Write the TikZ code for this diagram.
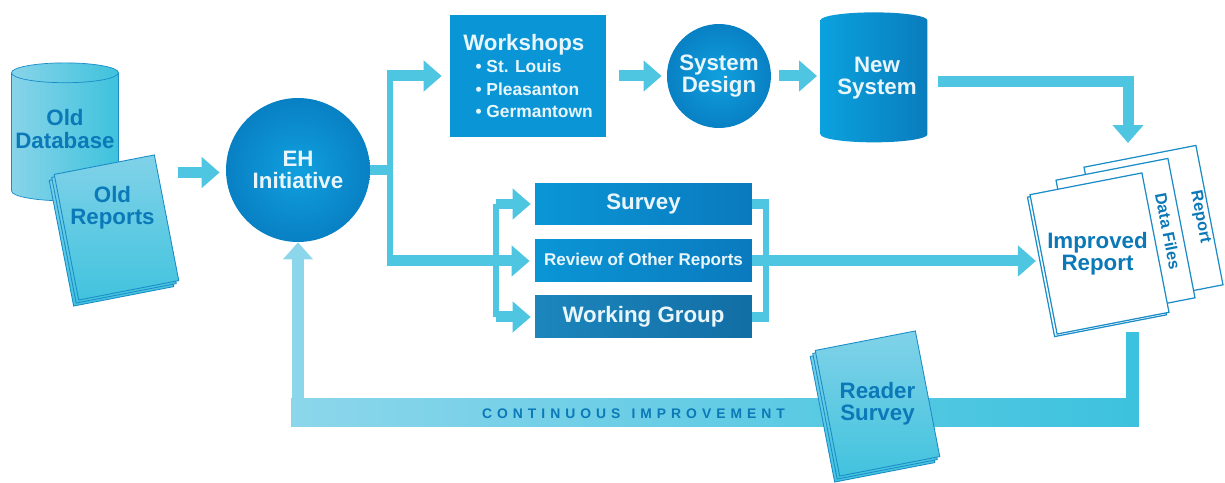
\documentclass[tikz,border=0pt]{standalone}
\usepackage{fontspec}
\setmainfont{Liberation Sans}
\usetikzlibrary{arrows.meta,shapes.geometric}

\definecolor{flowc}{RGB}{78,197,225}
\definecolor{flowlt}{RGB}{140,214,235}
\definecolor{flowdk}{RGB}{60,194,222}
\definecolor{deep}{RGB}{10,150,214}
\definecolor{deepdk}{RGB}{10,122,190}
\definecolor{deepmid}{RGB}{16,160,222}
\definecolor{deepedge}{RGB}{8,128,196}
\definecolor{wgblue}{RGB}{28,134,188}
\definecolor{wgdark}{RGB}{18,110,165}
\definecolor{inkblue}{RGB}{11,121,184}
\definecolor{paleink}{RGB}{232,246,252}
\definecolor{sheetline}{RGB}{26,140,200}
\definecolor{sheettop}{RGB}{128,210,232}
\definecolor{sheetbot}{RGB}{66,195,222}
\definecolor{drumlt}{RGB}{136,212,233}
\definecolor{drumdk}{RGB}{62,194,221}
\definecolor{newlt}{RGB}{10,162,222}
\definecolor{newdk}{RGB}{10,124,189}

\tikzset{
  bigfont/.style={font=\bfseries\fontsize{12.7}{12.6}\selectfont},
  lighttext/.style={bigfont, text=paleink, align=center},
  darktext/.style={bigfont, text=inkblue, align=center},
  bubble/.style={circle, inner sep=0pt, inner color=deepmid, outer color=deepedge, lighttext},
  block/.style={rectangle, inner sep=0pt, fill=deep, lighttext},
  bar/.style={rectangle, inner sep=0pt, minimum width=4.34cm, minimum height=0.84cm, left color=deep, right color=deepdk, lighttext},
  drum/.style={cylinder, shape border rotate=90, aspect=0.2, inner sep=0pt, minimum width=2.14cm, minimum height=2.6cm, bigfont, align=center},
  sheet/.style={rectangle, draw=sheetline, line width=0.5pt, top color=sheettop, bottom color=sheetbot, minimum width=2.04cm, minimum height=2.56cm, inner sep=0pt, rotate=11},
  paper/.style={rectangle, draw=sheetline, line width=0.7pt, fill=white, minimum width=2.28cm, minimum height=2.84cm, inner sep=0pt, rotate=11},
  flow/.style={draw=flowc, line width=0.22cm, -{Triangle[width=0.6cm,length=0.36cm]}},
  duct/.style={draw=flowc, line width=0.2cm},
  pipe/.style={draw=flowc, line width=0.12cm},
  feed/.style={line width=0.25cm, -{Triangle[width=0.58cm,length=0.34cm]}}
}

\begin{document}
\begin{tikzpicture}[x=0.02cm, y=-0.02cm]
\useasboundingbox (0,0) rectangle (1225,483);

% where it starts
\node[drum, minimum height=2.76cm, draw=sheetline, left color=drumlt, right color=drumdk] (olddb) at (65,137) {\phantom{Old}\\\phantom{Database}};
\node[darktext] (olddbtext) at (65,129) {Old\\Database};
\node[sheet] (oldrep3) at (111.5,233.5) {};
\node[sheet] (oldrep2) at (114,230.5) {};
\node[sheet] (oldrep) at (116.5,227.5) {};
\node[darktext] (oldreptext) at ([xshift=-0.08cm,yshift=0.4cm]oldrep.center) {Old\\Reports};

\node[bubble, minimum size=2.88cm] (eh) at (298,170) {EH\\Initiative};

% top row
\node[block, minimum width=3.12cm, minimum height=2.44cm, align=left] (work) at (528,76)
  {Workshops\\
   \hspace*{0.55em}{\fontsize{9.9}{12.6}\selectfont\textbullet\ St. Louis}\\
   \hspace*{0.55em}{\fontsize{9.9}{12.6}\selectfont\textbullet\ Pleasanton}\\
   \hspace*{0.55em}{\fontsize{9.9}{12.6}\selectfont\textbullet\ Germantown}};
\node[bubble, minimum size=2.08cm, right of=work, xshift=2.82cm] (sysd) {System\\Design};
\node[drum, left color=newlt, right color=newdk, right of=sysd, xshift=2.1cm, yshift=-0.11cm] (newsys) {\phantom{New}\\\phantom{System}};
\node[lighttext] (newsystext) at (877,78) {New\\System};

% middle row
\node[bar] (survey) at (643.5,204) {Survey};
\node[bar, below of=survey, yshift=-0.14cm, font=\bfseries\fontsize{9.7}{10}\selectfont] (review) {Review of Other Reports};
\node[bar, left color=wgblue, right color=wgdark, below of=review, yshift=-0.12cm] (wgroup) {Working Group};

% the result
\node[paper] (report) at (1153.5,226) {};
\node[paper] (datafiles) at (1125.5,239) {};
\node[paper] (improved2) at (1097,256) {};
\node[paper] (improved) at (1099.5,253.5) {};
\node[darktext] (improvedtext) at ([xshift=-0.04cm]improved.center) {Improved\\Report};
\node[darktext, font=\bfseries\fontsize{9.3}{10}\selectfont, rotate=-79] (datatext) at (1168,231) {Data Files};
\node[darktext, font=\bfseries\fontsize{9.3}{10}\selectfont, rotate=-79] (reporttext) at (1200,217) {Report};

% feedback band
\node[rectangle, inner sep=0pt, minimum width=16.96cm, minimum height=0.58cm, left color=flowlt, right color=flowdk] (loop) at (715,412.5) {};
\node[text=inkblue, font=\bfseries\fontsize{7.9}{8}\selectfont\addfontfeature{LetterSpace=36}] (looptext) at (633.5,414) {\mbox{CONTINUOUS}\hspace{0.8em}\mbox{IMPROVEMENT}};

\coordinate (trunk) at (389.5,170);
\coordinate (fork) at (495.5,261);
\coordinate (merge) at (766,261);
\coordinate (drop) at (1128,143);
\coordinate (tap) at (1132.5,332);

\draw[flow] ([xshift=-0.96cm,yshift=-0.05cm]eh.west) -- ([xshift=-0.12cm,yshift=-0.05cm]eh.west);
\draw[duct] (eh.east) -- ([xshift=0.06cm]trunk);
\draw[pipe] ([yshift=0.11cm]trunk |- work.west) -- ([yshift=-0.11cm]trunk |- review.west);
\draw[flow] (trunk |- work.west) -- ([xshift=-0.16cm]work.west);
\draw[flow] (trunk |- review.west) -- ([xshift=-0.1cm]review.west);
\draw[pipe] (fork |- survey.west) -- (fork |- wgroup.west);
\draw[flow] (fork |- survey.west) -- ([xshift=-0.08cm]survey.west);
\draw[flow] (fork |- wgroup.west) -- ([xshift=-0.08cm]wgroup.west);

\draw[flow] ([xshift=0.26cm]work.east) -- ([xshift=-0.1cm]sysd.west);
\draw[flow] ([xshift=0.16cm]sysd.east) -- ([xshift=-0.06cm]sysd.east -| newsys.west);
\draw[flow] ([xshift=0.2cm]newsys.east) -| (drop);

\draw[duct] (survey.east) -- ([xshift=0.06cm]survey.east -| merge);
\draw[duct] (wgroup.east) -- ([xshift=0.06cm]wgroup.east -| merge);
\draw[pipe] ([yshift=0.1cm]survey.east -| merge) -- ([yshift=-0.1cm]wgroup.east -| merge);
\draw[flow] (review.east) -- ([xshift=-0.14cm]improved.west |- review.east);

\draw[feed, draw=flowdk, -] (tap) -- (tap |- loop.north);
\draw[feed, draw=flowlt] (eh.south |- loop.north) -- (eh.south);

% reader survey sits on the band
\node[sheet] (reader3) at (872.5,409.5) {};
\node[sheet] (reader2) at (875,406.5) {};
\node[sheet] (reader) at (877.5,403.5) {};
\node[darktext] (readertext) at (reader.center) {Reader\\Survey};
\end{tikzpicture}
\end{document}
